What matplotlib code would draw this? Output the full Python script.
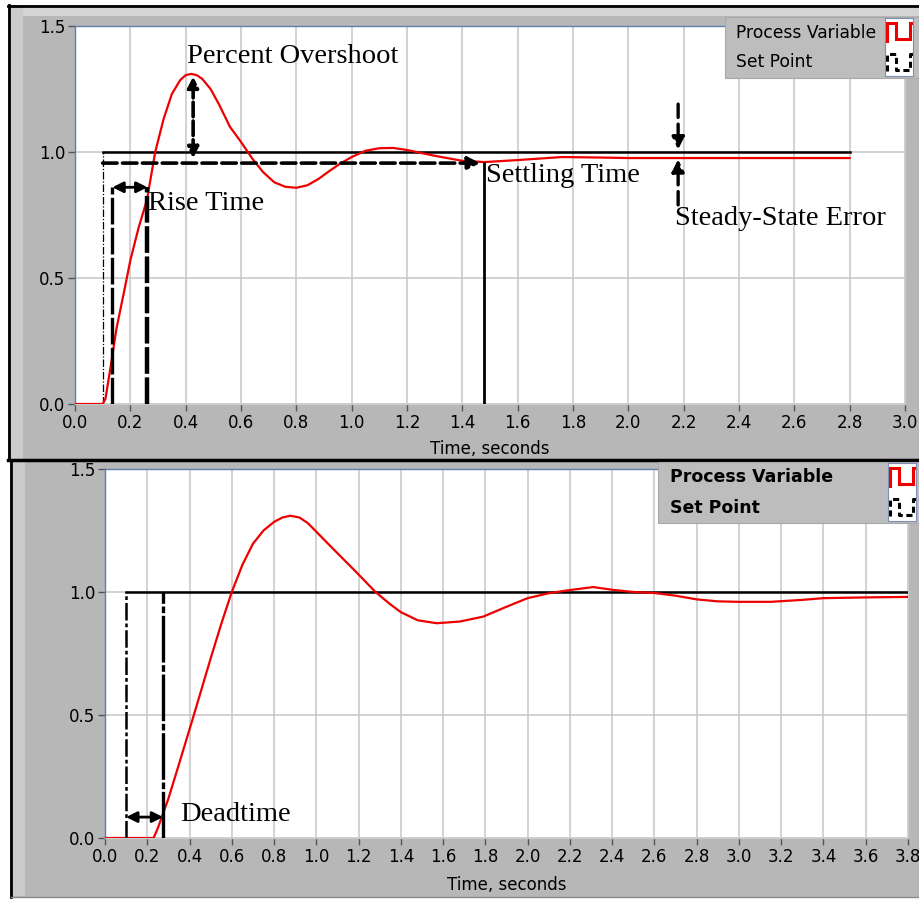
import matplotlib
matplotlib.use("Agg")
import matplotlib.pyplot as plt
from matplotlib.patches import Rectangle
from matplotlib.lines import Line2D
from matplotlib.ticker import FormatStrFormatter

# ---------------- data ----------------
# upper chart (annotated response)
pv1_t = [0.0, 0.10, 0.11, 0.127, 0.15, 0.18, 0.20, 0.23, 0.26, 0.29,
         0.32, 0.35, 0.38, 0.40, 0.42, 0.44, 0.46, 0.49, 0.52, 0.56,
         0.60, 0.64, 0.68, 0.72, 0.76, 0.80, 0.84, 0.88, 0.92, 0.96,
         1.00, 1.05, 1.10, 1.15, 1.20, 1.30, 1.40, 1.48, 1.60, 1.76,
         1.90, 2.00, 2.40, 2.80]
pv1_y = [0.0, 0.0, 0.02, 0.135, 0.30, 0.46, 0.57, 0.70, 0.81, 1.00,
         1.13, 1.23, 1.285, 1.305, 1.31, 1.305, 1.29, 1.25, 1.19, 1.10,
         1.04, 0.975, 0.92, 0.88, 0.862, 0.858, 0.868, 0.893, 0.925, 0.955,
         0.98, 1.005, 1.015, 1.016, 1.008, 0.985, 0.965, 0.96, 0.968, 0.98,
         0.978, 0.976, 0.976, 0.976]
sp1_start, sp1_end, sp1_level = 0.1, 2.8, 1.0

xticks1 = [0.0, 0.2, 0.4, 0.6, 0.8, 1.0, 1.2, 1.4, 1.6, 1.8, 2.0, 2.2, 2.4, 2.6, 2.8, 3.0]
yticks = [0.0, 0.5, 1.0, 1.5]

rise_t = [0.135, 0.262]
rise_y = 0.86
overshoot_t = 0.427
overshoot_y = [0.975, 1.30]
settle_band_y = 0.956
settle_t = 1.48
sse_t = 2.18
sse_y = [0.976, 1.0]
sse_tails = [0.79, 1.19]

# lower chart (deadtime)
pv2_t = [0.0, 0.23, 0.25, 0.275, 0.30, 0.35, 0.417, 0.50, 0.55, 0.60,
         0.65, 0.70, 0.75, 0.80, 0.84, 0.877, 0.92, 0.96, 1.00, 1.08,
         1.19, 1.28, 1.35, 1.40, 1.48, 1.57, 1.68, 1.79, 1.90, 2.00,
         2.10, 2.20, 2.31, 2.41, 2.50, 2.60, 2.70, 2.80, 2.90, 3.00,
         3.15, 3.30, 3.40, 3.60, 3.80]
pv2_y = [0.0, 0.0, 0.04, 0.10, 0.16, 0.30, 0.49, 0.73, 0.87, 1.0,
         1.11, 1.196, 1.25, 1.285, 1.303, 1.31, 1.303, 1.28, 1.245, 1.175,
         1.08, 1.0, 0.95, 0.918, 0.885, 0.873, 0.88, 0.90, 0.94, 0.975,
         0.995, 1.008, 1.02, 1.008, 1.0, 0.996, 0.985, 0.97, 0.962, 0.96,
         0.96, 0.968, 0.975, 0.978, 0.98]
sp2_start, sp2_end, sp2_level = 0.1, 3.8, 1.0
xticks2 = [0.0, 0.2, 0.4, 0.6, 0.8, 1.0, 1.2, 1.4, 1.6, 1.8, 2.0, 2.2, 2.4,
           2.6, 2.8, 3.0, 3.2, 3.4, 3.6, 3.8]
dead_t = [0.1, 0.275]
dead_y = 0.085

legend_labels = ["Process Variable", "Set Point"]
xlabel = "Time, seconds"

# ---------------- figure ----------------
plt.rcParams['font.family'] = ['DejaVu Sans']
W, H = 920, 899
fig = plt.figure(figsize=(9.2, 8.99), dpi=100)
fig.patch.set_facecolor('white')


def fx(x):
    return x / W


def fy(y):
    return 1 - y / H


def rect(x0, y0, x1, y1, fc, z=-5, ec='none', lw=0):
    fig.add_artist(Rectangle((fx(x0), fy(y1)), (x1 - x0) / W, (y1 - y0) / H,
                             transform=fig.transFigure, facecolor=fc,
                             edgecolor=ec, linewidth=lw, zorder=z))


def fline(xs, ys, color='k', lw=2, z=-4, **kw):
    fig.add_artist(Line2D([fx(x) for x in xs], [fy(y) for y in ys],
                          transform=fig.transFigure, color=color, lw=lw,
                          zorder=z, **kw))


GRAY = '#b7b7b7'
LIGHT = '#cbcbcb'
# top panel
rect(8, 5, 920, 460, GRAY)
rect(10, 7, 920, 16, '#d4d4d4')
rect(10, 7, 23, 459, LIGHT)
fline([8, 920], [5.5, 5.5], lw=2)
fline([9, 9], [5, 460], lw=2)
# bottom panel
rect(10, 461, 920, 897, GRAY)
rect(12, 461, 25, 896, LIGHT)
fline([8, 920], [460, 460], lw=2.5)
fline([11, 11], [460, 897], lw=2)
fline([11, 920], [897, 897], color='#8a8a8a', lw=1)

ax1 = fig.add_axes([fx(75), fy(404), 830 / W, 378 / H])
ax2 = fig.add_axes([fx(105), fy(838), 803 / W, 369 / H])

GRID_GRAY = '#c6c6c6'
GRID_PURPLE = '#a7a2d2'


def style_axes(ax, xticks, xmax, purple_x, purple_y, label_y):
    ax.set_facecolor('white')
    ax.set_xlim(0, xmax)
    ax.set_ylim(0, 1.5)
    ax.set_xticks(xticks)
    ax.set_yticks(yticks)
    ax.xaxis.set_major_formatter(FormatStrFormatter('%.1f'))
    ax.yaxis.set_major_formatter(FormatStrFormatter('%.1f'))
    ax.tick_params(direction='out', length=5, width=1, color='#555555',
                   labelsize=12, pad=2, labelcolor='black')
    ax.grid(True, color=GRID_GRAY, lw=1.1)
    ax.set_axisbelow(True)
    for tk in ax.xaxis.get_major_ticks():
        if any(abs(tk.get_loc() - p) < 1e-6 for p in purple_x):
            tk.gridline.set_color(GRID_PURPLE)
    for tk in ax.yaxis.get_major_ticks():
        if any(abs(tk.get_loc() - p) < 1e-6 for p in purple_y):
            tk.gridline.set_color(GRID_PURPLE)
    for s in ['top', 'left']:
        ax.spines[s].set_color('#5f7cb4')
        ax.spines[s].set_linewidth(1)
    for s in ['bottom', 'right']:
        ax.spines[s].set_color('#c9c9c9')
        ax.spines[s].set_linewidth(1)
    ax.set_xlabel(xlabel, fontsize=12, color='black')
    ax.xaxis.set_label_coords(0.5, label_y)


style_axes(ax1, xticks1, 3.0, [0.4, 0.8, 1.4, 2.2], [], -0.095)
style_axes(ax2, xticks2, 3.8, [0.2, 1.2, 2.4, 3.4], [0.5, 1.0], -0.103)

# ---------- top chart ----------
ax1.plot([sp1_start, sp1_end], [sp1_level, sp1_level], color='black', lw=1.8, zorder=3)
ax1.plot([sp1_start, sp1_start], [0, sp1_level], color='black', lw=0.9,
         linestyle=(0, (6, 1.5, 1, 1.5)), zorder=3)
ax1.plot(pv1_t, pv1_y, color='#ee0000', lw=1.6, zorder=4)

DASH = (0, (4, 1.2))
SERIF = 'Liberation Serif'
# rise time
ax1.plot([rise_t[0], rise_t[0]], [0, rise_y], color='black', lw=2.4, linestyle=(0, (8, 1)), zorder=5)
ax1.plot([rise_t[1], rise_t[1]], [0, rise_y], color='black', lw=3.2, linestyle=(0, (6, 0.8)), zorder=5)
ax1.annotate('', xy=(rise_t[0], rise_y), xytext=(rise_t[1], rise_y),
             arrowprops=dict(arrowstyle='<|-|>', lw=2, color='black',
                             mutation_scale=16, shrinkA=0, shrinkB=0), zorder=6)
ax1.text(rise_t[1] + 0.003, 0.795, 'Rise Time', family=SERIF,
         fontsize=20.5, va='center', ha='left', zorder=7)

# percent overshoot
ax1.annotate('', xy=(overshoot_t, overshoot_y[1]), xytext=(overshoot_t, overshoot_y[0]),
             arrowprops=dict(arrowstyle='<|-|>', lw=2.6, color='black', linestyle=DASH,
                             mutation_scale=16, shrinkA=0, shrinkB=0), zorder=6)
ax1.text(0.405, 1.377, 'Percent Overshoot', family=SERIF,
         fontsize=20.5, va='center', ha='left', zorder=7)

# settling time
ax1.annotate('', xy=(settle_t - 0.015, settle_band_y), xytext=(sp1_start, settle_band_y),
             arrowprops=dict(arrowstyle='-|>', lw=2.6, color='black', linestyle=(0, (4, 1.5)),
                             mutation_scale=18, shrinkA=0, shrinkB=0), zorder=6)
ax1.plot([settle_t, settle_t], [0, settle_band_y], color='black', lw=2, zorder=5)
ax1.text(settle_t + 0.005, 0.905, 'Settling Time', family=SERIF,
         fontsize=20.5, va='center', ha='left', zorder=7)

# steady-state error
ax1.annotate('', xy=(sse_t, sse_y[1] + 0.01), xytext=(sse_t, sse_tails[1]),
             arrowprops=dict(arrowstyle='-|>', lw=2.4, color='black', linestyle=(0, (4, 2)),
                             mutation_scale=18, shrinkA=0, shrinkB=0), zorder=6)
ax1.annotate('', xy=(sse_t, sse_y[0] - 0.005), xytext=(sse_t, sse_tails[0]),
             arrowprops=dict(arrowstyle='-|>', lw=2.4, color='black', linestyle=(0, (4, 2)),
                             mutation_scale=18, shrinkA=0, shrinkB=0), zorder=6)
ax1.text(2.17, 0.738, 'Steady-State Error', family=SERIF,
         fontsize=20.5, va='center', ha='left', zorder=7)

# ---------- bottom chart ----------
ax2.plot([sp2_start, sp2_end], [sp2_level, sp2_level], color='black', lw=1.8, zorder=3)
ax2.plot([dead_t[0], dead_t[0]], [0, sp2_level], color='black', lw=1.8,
         linestyle=(0, (7, 1.2, 1.5, 1.2)), zorder=5)
ax2.plot([dead_t[1], dead_t[1]], [0, sp2_level], color='black', lw=2.4,
         linestyle=(0, (14, 0.8, 2, 0.8)), zorder=5)
ax2.plot(pv2_t, pv2_y, color='#ee0000', lw=1.6, zorder=4)
ax2.annotate('', xy=(dead_t[0], dead_y), xytext=(dead_t[1], dead_y),
             arrowprops=dict(arrowstyle='<|-|>', lw=2, color='black',
                             mutation_scale=16, shrinkA=0, shrinkB=0), zorder=6)
ax2.text(0.355, 0.094, 'Deadtime', family=SERIF,
         fontsize=20.5, va='center', ha='left', zorder=7)


# ---------- legends ----------
def legend(x0, y0, x1, y1, tx, ty, weight, size, icon):
    rect(x0, y0, x1, y1, '#bdbdbd', z=5, ec='#a8a8a8', lw=0.8)
    for lab, yy in zip(legend_labels, ty):
        fig.text(fx(tx), fy(yy), lab, fontsize=size, fontweight=weight,
                 va='center', ha='left', zorder=6, color='black')
    ix0, iy0, ix1, iy1 = icon
    iax = fig.add_axes([fx(ix0), fy(iy1), (ix1 - ix0) / W, (iy1 - iy0) / H])
    iax.set_zorder(7)
    iax.set_xlim(0, 1)
    iax.set_ylim(0, 1)
    iax.set_facecolor('white')
    iax.set_xticks([])
    iax.set_yticks([])
    for s in iax.spines.values():
        s.set_color('#7d8fb5')
        s.set_linewidth(0.8)
    wave_x = [0.08, 0.08, 0.4, 0.4, 0.88, 0.88, 1.0]
    top_wave = [0.6, 0.92, 0.92, 0.63, 0.63, 0.92, 0.92]
    bot_wave = [0.08, 0.38, 0.38, 0.1, 0.1, 0.38, 0.38]
    iax.plot(wave_x, top_wave, color='#ee0000', lw=2.2, solid_joinstyle='miter')
    iax.plot(wave_x, bot_wave, color='black', lw=2.2, linestyle=(0, (2, 1.2)))


legend(725, 17, 921, 78, 736, [33, 62], 'normal', 12.3, (885, 18, 913, 76))
legend(658, 462, 921, 523, 670, [477, 508], 'bold', 12.5, (888, 463, 916, 521))

fig.savefig('out.png', dpi=100)
